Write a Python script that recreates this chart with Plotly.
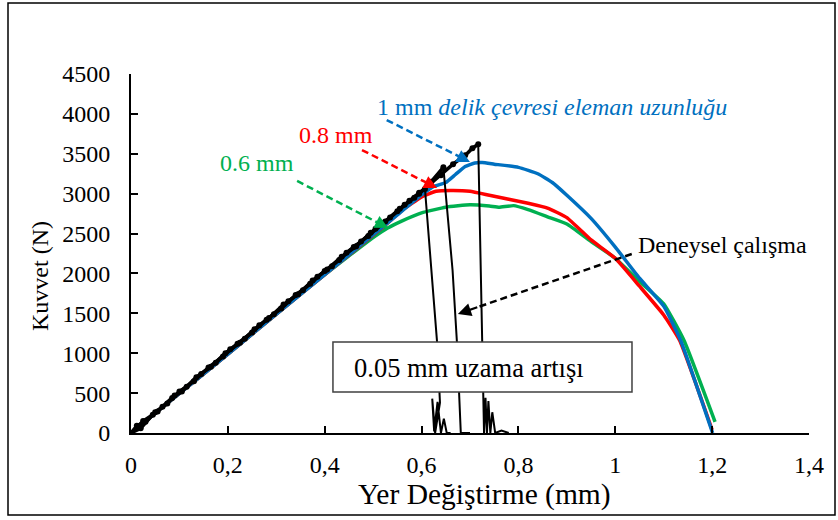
import plotly.graph_objects as go

# ---- Sonlu eleman sonuçları: delik çevresi eleman uzunluğuna göre ----
fe_1mm_x = [0, 0.1, 0.2, 0.3, 0.4, 0.5, 0.55, 0.6, 0.625, 0.65, 0.67, 0.69, 0.71, 0.725,
            0.75, 0.8, 0.84, 0.87, 0.9, 0.95, 1.0, 1.05, 1.1, 1.135, 1.201]
fe_1mm_y = [0, 495, 990, 1490, 1985, 2485, 2735, 2985, 3090, 3140, 3240, 3340, 3385, 3390,
            3370, 3330, 3250, 3140, 2980, 2690, 2330, 1940, 1590, 1160, 0]

fe_08mm_x = [0, 0.1, 0.2, 0.3, 0.4, 0.47, 0.52, 0.56, 0.6, 0.63, 0.66, 0.7, 0.74, 0.78,
             0.82, 0.86, 0.9, 0.95, 1.0, 1.05, 1.1, 1.133, 1.2]
fe_08mm_y = [0, 495, 990, 1490, 1985, 2330, 2580, 2790, 2960, 3030, 3040, 3030, 2980, 2930,
             2880, 2820, 2700, 2420, 2190, 1840, 1480, 1160, 40]

fe_06mm_x = [0, 0.1, 0.2, 0.3, 0.4, 0.45, 0.5, 0.53, 0.56, 0.6, 0.65, 0.7, 0.74, 0.76,
             0.79, 0.82, 0.86, 0.9, 0.95, 1.0, 1.05, 1.1, 1.142, 1.206]
fe_06mm_y = [0, 495, 990, 1490, 1985, 2220, 2450, 2570, 2660, 2760, 2830, 2860, 2845, 2830,
             2850, 2800, 2710, 2620, 2400, 2190, 1900, 1620, 1160, 140]

# ---- Deneysel çalışma: üç numune ----
deney1_x = [0.000, 0.012, 0.030, 0.050, 0.075, 0.100, 0.130, 0.160, 0.190, 0.220, 0.250,
            0.280, 0.310, 0.340, 0.370, 0.400, 0.430, 0.460, 0.490, 0.520, 0.550, 0.575,
            0.595, 0.607, 0.620, 0.632, 0.638, 0.628, 0.622, 0.626, 0.633, 0.640, 0.646,
            0.652, 0.660]
deney1_y = [0, 90, 140, 260, 370, 520, 650, 820, 960, 1120, 1260, 1420, 1560, 1730, 1870,
            2030, 2170, 2330, 2470, 2630, 2780, 2910, 3010, 3060, 2050, 1140, 380, 0, 430,
            20, 390, 0, 180, 0, 0]

deney2_x = [0, 0.02, 0.045, 0.065, 0.09, 0.115, 0.145, 0.175, 0.205, 0.235, 0.265, 0.295,
            0.325, 0.355, 0.385, 0.415, 0.445, 0.475, 0.505, 0.535, 0.565, 0.595, 0.62,
            0.645, 0.664, 0.673, 0.681, 0.69, 0.70]
deney2_y = [0, 60, 230, 330, 470, 580, 740, 880, 1050, 1180, 1350, 1490, 1650, 1790, 1960,
            2090, 2260, 2400, 2560, 2700, 2860, 3000, 3150, 3330, 2040, 1140, 0, 0, 0]

deney3_x = [0, 0.025, 0.055, 0.085, 0.105, 0.135, 0.165, 0.195, 0.225, 0.255, 0.285, 0.315,
            0.345, 0.375, 0.405, 0.435, 0.465, 0.495, 0.525, 0.555, 0.585, 0.615, 0.64,
            0.665, 0.69, 0.705, 0.717, 0.725, 0.729, 0.732, 0.735, 0.738, 0.742, 0.746,
            0.752, 0.765, 0.78]
deney3_y = [0, 150, 270, 440, 520, 700, 830, 1000, 1130, 1300, 1440, 1610, 1740, 1910, 2050,
            2210, 2340, 2510, 2650, 2810, 2950, 3110, 3230, 3370, 3480, 3570, 3620, 1140, 0,
            440, 0, 400, 0, 260, 0, 30, 0]

# ---- Eksen etiketleri ----
x_tick_vals = [0, 0.2, 0.4, 0.6, 0.8, 1.0, 1.2, 1.4]
x_tick_text = ["0", "0,2", "0,4", "0,6", "0,8", "1", "1,2", "1,4"]
y_tick_vals = [0, 500, 1000, 1500, 2000, 2500, 3000, 3500, 4000, 4500]
y_tick_text = [str(v) for v in y_tick_vals]

BLUE = "#0070C0"
RED = "#FF0000"
GREEN = "#00B050"
SERIF = "Liberation Serif"

fig = go.Figure()

for xs, ys, col in [(fe_06mm_x, fe_06mm_y, GREEN),
                    (fe_08mm_x, fe_08mm_y, RED),
                    (fe_1mm_x, fe_1mm_y, BLUE)]:
    fig.add_trace(go.Scatter(x=xs, y=ys, mode="lines",
                             line=dict(color=col, width=3.5, shape="spline", smoothing=0.4),
                             hoverinfo="skip", showlegend=False))

# Deney eğrileri: yükleme bölümü kalın işaretçili, kopma bölümü ince çizgi
for xs, ys in [(deney1_x, deney1_y), (deney2_x, deney2_y), (deney3_x, deney3_y)]:
    peak = ys.index(max(ys))
    fig.add_trace(go.Scatter(x=xs[:peak + 1], y=ys[:peak + 1], mode="lines+markers",
                             line=dict(color="black", width=3.5),
                             marker=dict(color="black", size=6, symbol="circle",
                                         line=dict(width=0)),
                             hoverinfo="skip", showlegend=False))
    fig.add_trace(go.Scatter(x=xs[peak:], y=ys[peak:], mode="lines",
                             line=dict(color="black", width=2),
                             hoverinfo="skip", showlegend=False))

axis_font = dict(family=SERIF, size=24, color="black")

fig.update_xaxes(range=[0, 1.4], tickvals=x_tick_vals, ticktext=x_tick_text,
                 ticks="inside", ticklen=7, tickwidth=1.5, tickcolor="black",
                 showline=True, linecolor="black", linewidth=2,
                 showgrid=False, zeroline=False, tickfont=axis_font,
                 ticklabelstandoff=9)
fig.update_yaxes(range=[0, 4500], tickvals=y_tick_vals, ticktext=y_tick_text,
                 ticks="inside", ticklen=7, tickwidth=1.5, tickcolor="black",
                 showline=True, linecolor="black", linewidth=2,
                 showgrid=False, zeroline=False, tickfont=axis_font,
                 ticklabelstandoff=14)

W, H = 838, 520
ML, MR, MT, MB = 131, 29, 74, 87
PW, PH = W - ML - MR, H - MT - MB


def px(xp):
    return (xp - ML) / PW


def py(yp):
    return (H - MB - yp) / PH


shapes = []
annotations = []

# dış çerçeve
shapes.append(dict(type="rect", xref="paper", yref="paper",
                   x0=px(8), x1=px(835), y0=py(515), y1=py(3),
                   line=dict(color="black", width=1.5), layer="below"))

# "0.05 mm uzama artışı" kutusu
shapes.append(dict(type="rect", xref="x", yref="y", x0=0.417, x1=1.0345, y0=514, y1=1141,
                   line=dict(color="#404040", width=1.5), fillcolor="white", layer="above"))
annotations.append(dict(x=0.456, y=815, xref="x", yref="y", xanchor="left", yanchor="middle",
                        text="0.05 mm uzama artışı", showarrow=False,
                        font=dict(family=SERIF, size=26.5, color="black")))

# kesikli oklar: (başlangıç, uç, renk)
arrows = [((0.528, 3923), (0.700, 3397), BLUE),
          ((0.477, 3547), (0.632, 3071), RED),
          ((0.343, 3159), (0.531, 2570), GREEN),
          ((1.034, 2244), (0.675, 1492), "black")]
for (x0, y0), (x1, y1), col in arrows:
    bx = x1 + (x0 - x1) * 0.12
    by = y1 + (y0 - y1) * 0.12
    shapes.append(dict(type="line", xref="x", yref="y", x0=x0, y0=y0, x1=bx, y1=by,
                       line=dict(color=col, width=2.5, dash="7px,4px"), layer="above"))
    annotations.append(dict(x=x1, y=y1, ax=bx, ay=by, xref="x", yref="y", axref="x",
                            ayref="y", text="", showarrow=True, arrowhead=2, arrowsize=1.2,
                            arrowwidth=2.2, arrowcolor=col, standoff=0))

text_font = dict(family=SERIF, size=24)
annotations += [
    dict(x=0.504, y=4087, xref="x", yref="y", xanchor="left", yanchor="middle",
         text="1 mm <i>delik çevresi eleman uzunluğu</i>", showarrow=False,
         font=dict(text_font, color=BLUE)),
    dict(x=0.343, y=3735, xref="x", yref="y", xanchor="left", yanchor="middle",
         text="0.8 mm", showarrow=False, font=dict(text_font, color=RED)),
    dict(x=0.180, y=3384, xref="x", yref="y", xanchor="left", yanchor="middle",
         text="0.6 mm", showarrow=False, font=dict(text_font, color=GREEN)),
    dict(x=1.043, y=2357, xref="x", yref="y", xanchor="left", yanchor="middle",
         text="Deneysel çalışma", showarrow=False, font=dict(text_font, color="black")),
    # eksen başlıkları
    dict(x=px(484), y=py(494), xref="paper", yref="paper", xanchor="center",
         yanchor="middle", text="Yer Değiştirme (mm)", showarrow=False,
         font=dict(family=SERIF, size=29.5, color="black")),
    dict(x=px(40), y=py(276), xref="paper", yref="paper", xanchor="center",
         yanchor="middle", text="Kuvvet (N)", textangle=-90, showarrow=False,
         font=dict(family=SERIF, size=24, color="black")),
]

fig.update_layout(width=W, height=H, margin=dict(l=ML, r=MR, t=MT, b=MB),
                  paper_bgcolor="white", plot_bgcolor="white",
                  shapes=shapes, annotations=annotations, showlegend=False,
                  font=dict(family=SERIF, color="black"))

fig.write_html("out.html")
